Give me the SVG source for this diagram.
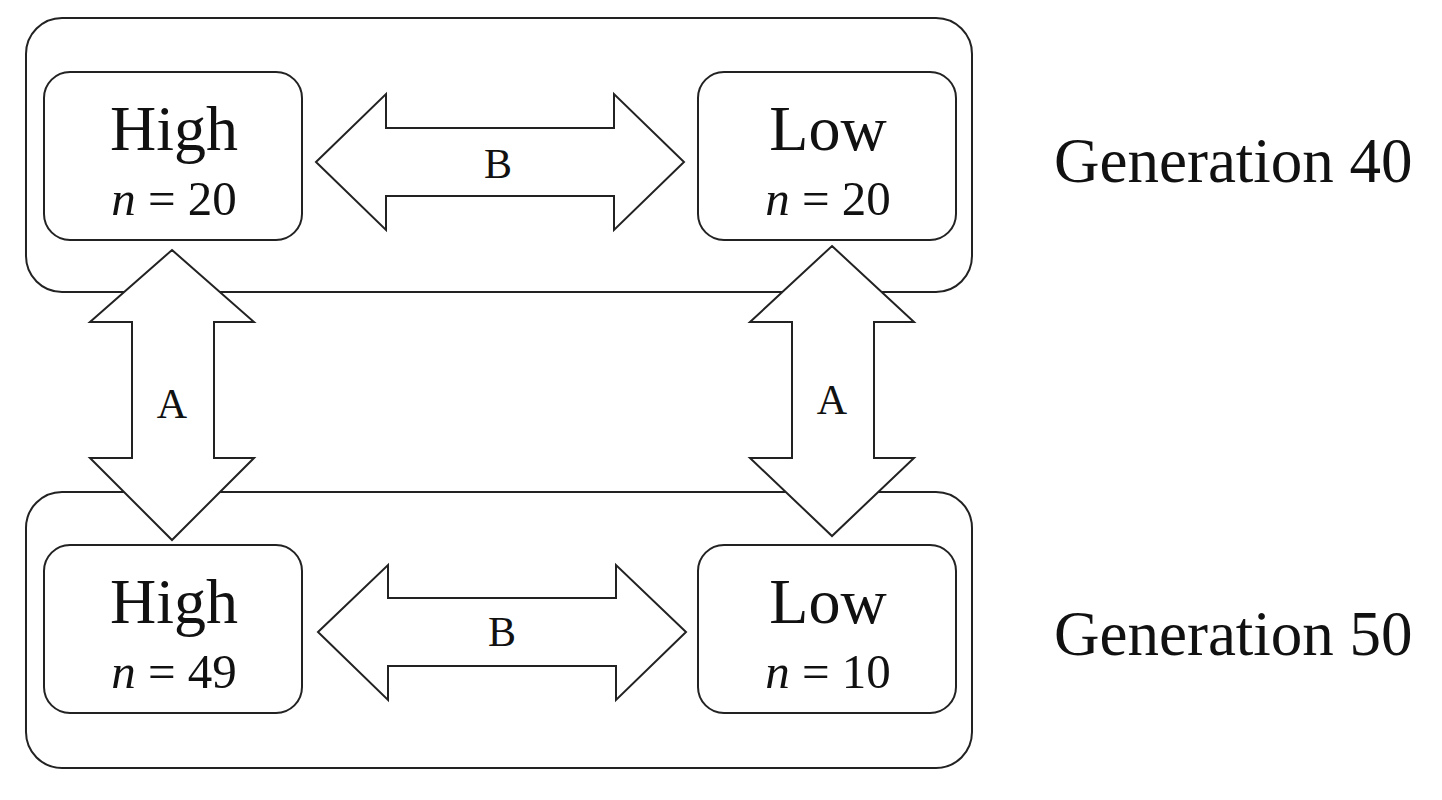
<svg xmlns="http://www.w3.org/2000/svg" width="1442" height="800" viewBox="0 0 1442 800">
<style>
.box{fill:#fff;stroke:#222;stroke-width:2}
.arr{fill:#fff;stroke:#222;stroke-width:2;stroke-linejoin:miter}
text{font-family:"Liberation Serif","Times New Roman",serif;fill:#111;text-anchor:middle}
.big{font-size:64px}
.n{font-size:49px}
.lab{font-size:42px}
.gen{font-size:63px;text-anchor:start}
</style>
<rect width="1442" height="800" fill="#fff"/>
<g id="gen40"><rect class="box" x="26" y="18" width="946" height="274" rx="36"/></g>
<g id="gen50"><rect class="box" x="26" y="492" width="946" height="276" rx="36"/></g>
<g id="connectors">
<path class="arr" d="M316,162 L386,94 L386,128 L614,128 L614,94 L684,162 L614,230 L614,196 L386,196 L386,230 Z"/>
<path class="arr" d="M318,632 L388,565 L388,598 L616,598 L616,565 L686,632 L616,700 L616,666 L388,666 L388,700 Z"/>
<path class="arr" d="M172,250 L254,322 L214,322 L214,458 L254,458 L172,540 L90,458 L132,458 L132,322 L90,322 Z"/>
<path class="arr" d="M832,246 L914,322 L874,322 L874,458 L914,458 L832,536 L750,458 L792,458 L792,322 L750,322 Z"/>
<text class="lab" x="498" y="178">B</text>
<text class="lab" x="502" y="646">B</text>
<text class="lab" x="172" y="418">A</text>
<text class="lab" x="832" y="414">A</text>
</g>
<g id="high40"><rect class="box" x="44" y="72" width="258" height="168" rx="26"/>
<text class="big" x="174" y="150">High</text><text class="n" x="174" y="215"><tspan font-style="italic">n</tspan> = 20</text></g>
<g id="low40"><rect class="box" x="698" y="72" width="258" height="168" rx="26"/>
<text class="big" x="828" y="150">Low</text><text class="n" x="828" y="215"><tspan font-style="italic">n</tspan> = 20</text></g>
<g id="high50"><rect class="box" x="44" y="545" width="258" height="168" rx="26"/>
<text class="big" x="174" y="623">High</text><text class="n" x="174" y="688"><tspan font-style="italic">n</tspan> = 49</text></g>
<g id="low50"><rect class="box" x="698" y="545" width="258" height="168" rx="26"/>
<text class="big" x="828" y="623">Low</text><text class="n" x="828" y="688"><tspan font-style="italic">n</tspan> = 10</text></g>
<g id="labels">
<text class="gen" x="1054" y="182">Generation 40</text>
<text class="gen" x="1054" y="655">Generation 50</text>
</g>
</svg>
